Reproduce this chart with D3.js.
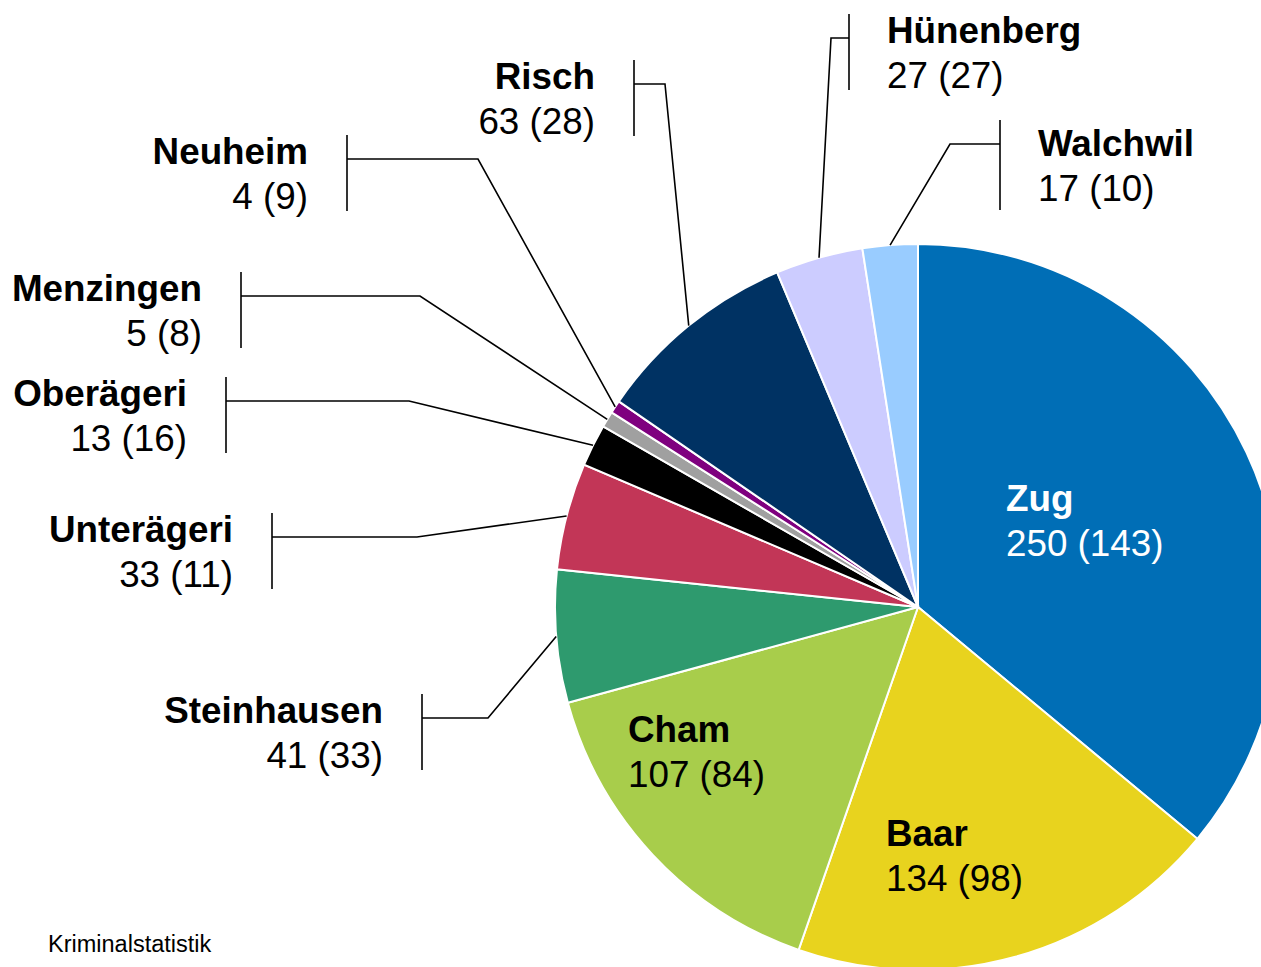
<!DOCTYPE html>
<html>
<head>
<meta charset="utf-8">
<script src="https://cdn.jsdelivr.net/npm/d3@7"></script>
<style>
  body { margin: 0; background: #fff; }
  text { font-family: "Liberation Sans", Arial, sans-serif; }
</style>
</head>
<body>
<svg id="chart" width="1261" height="967"></svg>
<script>
// Gemeinden, clockwise from 12 o'clock
var gemeinden = ['Zug', 'Baar', 'Cham', 'Steinhausen', 'Unterägeri', 'Oberägeri',
    'Menzingen', 'Neuheim', 'Risch', 'Hünenberg', 'Walchwil'];
// current year
var anzahl = [250, 134, 107, 41, 33, 13, 5, 4, 63, 27, 17];
// previous year (in brackets)
var vorjahr = [143, 98, 84, 33, 11, 16, 8, 9, 28, 27, 10];
var farben = ['#006eb6', '#e8d31e', '#a8cd4b', '#2e9a6e', '#c23657', '#000000',
    '#a0a0a0', '#7f007f', '#003263', '#ccccff', '#99ccff'];

var svg = d3.select('#chart');
var cx = 918, cy = 607, radius = 363;
var fontSize = 36.8;

var rows = gemeinden.map(function(d, i) {
    return {name: d, value: anzahl[i], prev: vorjahr[i], color: farben[i]};
});

var pie = d3.pie().sort(null).value(function(d) { return d.value; });
var arc = d3.arc().innerRadius(0).outerRadius(radius);
var slices = pie(rows);

var pieG = svg.append('g').attr('transform', 'translate(' + [cx, cy] + ')');

pieG.selectAll('path')
    .data(slices)
    .enter().append('path')
    .attr('d', arc)
    .attr('fill', function(d) { return d.data.color; })
    .attr('stroke', '#fff')
    .attr('stroke-width', 2);

// labels inside the big slices
var innen = {
    'Zug':  {x: 1006, y: 511, fill: '#fff'},
    'Baar': {x: 886, y: 846, fill: '#000'},
    'Cham': {x: 628, y: 742, fill: '#000'}
};

// outside labels: bracket x, bracket top, bracket length, elbow x, side
var aussen = {
    'Steinhausen': {bx: 422, top: 694, len: 76, ex: 488, side: 'left'},
    'Unterägeri':  {bx: 272, top: 513, len: 76, ex: 417, side: 'left'},
    'Oberägeri':   {bx: 226, top: 377, len: 76, ex: 409, side: 'left'},
    'Menzingen':   {bx: 241, top: 272, len: 76, ex: 420, side: 'left'},
    'Neuheim':     {bx: 347, top: 135, len: 76, ex: 478, side: 'left'},
    'Risch':       {bx: 634, top: 60,  len: 76, ex: 665, side: 'left'},
    'Hünenberg':   {bx: 849, top: 14,  len: 76, ex: 831, side: 'right'},
    'Walchwil':    {bx: 1000, top: 120, len: 90, ex: 950, side: 'right'}
};

function twoLines(g, x, y1, anchor, fill, d) {
    var t = g.append('text')
        .attr('x', x)
        .attr('text-anchor', anchor)
        .attr('fill', fill)
        .style('font-size', fontSize + 'px');
    t.append('tspan').attr('x', x).attr('y', y1)
        .attr('font-weight', 'bold').text(d.name);
    t.append('tspan').attr('x', x).attr('y', y1 + 45)
        .text(d.value + ' (' + d.prev + ')');
}

slices.forEach(function(s) {
    var d = s.data;
    if (innen[d.name]) {
        var p = innen[d.name];
        twoLines(svg, p.x, p.y, 'start', p.fill, d);
        return;
    }
    var L = aussen[d.name];
    if (!L) return;
    var mid = (s.startAngle + s.endAngle) / 2;
    var sx = cx + Math.sin(mid) * radius;
    var sy = cy - Math.cos(mid) * radius;
    var hy = L.top + 24;

    svg.append('polyline')
        .attr('points', [[sx, sy], [L.ex, hy], [L.bx, hy]].join(' '))
        .attr('fill', 'none')
        .attr('stroke', '#000')
        .attr('stroke-width', 1.6);
    svg.append('line')
        .attr('x1', L.bx).attr('x2', L.bx)
        .attr('y1', L.top).attr('y2', L.top + L.len)
        .attr('stroke', '#000')
        .attr('stroke-width', 1.6);

    var c = L.top + L.len / 2;
    if (L.side === 'left') {
        twoLines(svg, L.bx - 39, c - 9, 'end', '#000', d);
    } else {
        twoLines(svg, L.bx + 38, c - 9, 'start', '#000', d);
    }
});

svg.append('text')
    .attr('x', 48)
    .attr('y', 952)
    .style('font-size', '23.5px')
    .attr('fill', '#000')
    .text('Kriminalstatistik');
</script>
</body>
</html>
